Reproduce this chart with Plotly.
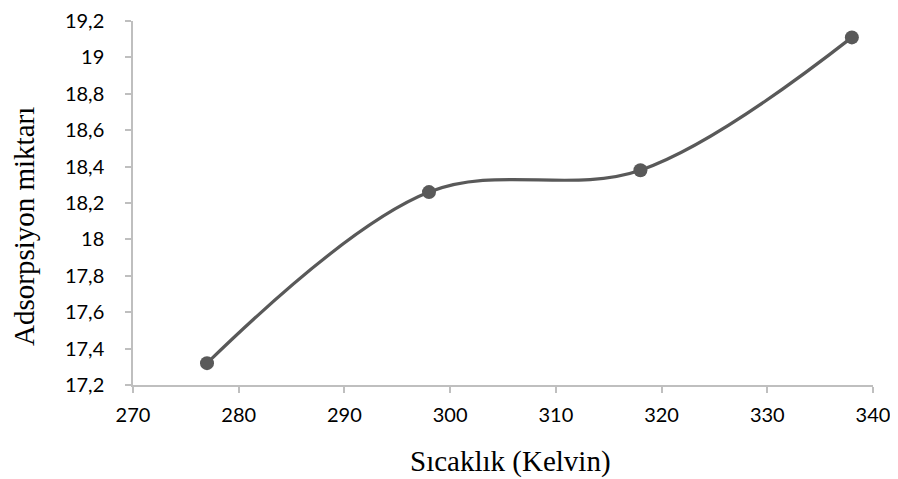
import plotly.graph_objects as go

temperature = [277, 298, 318, 338]
adsorption = [17.32, 18.26, 18.38, 19.11]

x_ticks = [270, 280, 290, 300, 310, 320, 330, 340]
y_ticks = [17.2, 17.4, 17.6, 17.8, 18.0, 18.2, 18.4, 18.6, 18.8, 19.0, 19.2]

x_title = "Sıcaklık (Kelvin)"
y_title = "Adsorpsiyon miktarı"

fig = go.Figure()
fig.add_trace(go.Scatter(
    x=temperature, y=adsorption,
    mode="lines+markers",
    line=dict(color="#595959", width=3.2, shape="spline", smoothing=1),
    marker=dict(color="#595959", size=14),
    showlegend=False,
))

axis_common = dict(
    showgrid=False, zeroline=False,
    showline=True, linecolor="#bfbfbf", linewidth=1.5,
    ticks="outside", tickcolor="#bfbfbf", ticklen=6, tickwidth=1.5,
    tickfont=dict(family="Lato, Liberation Sans, sans-serif", size=20, color="#000000"),
    automargin=False, ticklabeloverflow="allow",
)

title_font = dict(family="Liberation Serif, Times New Roman, serif", size=29, color="#000000")

# page body has an 8px default margin, so shift layout accordingly
fig.update_layout(
    width=890, height=471,
    margin=dict(l=125, r=25, t=13, b=94),
    paper_bgcolor="white", plot_bgcolor="white",
    separators=", ",
    xaxis=dict(range=[270, 340], tickvals=x_ticks, ticklabelstandoff=5, **axis_common),
    yaxis=dict(range=[17.2, 19.2], tickvals=y_ticks, tickformat=".1~f", ticklabelstandoff=17, **axis_common),
    annotations=[
        dict(text=x_title, xref="paper", yref="paper", x=0.5108, y=-0.2115,
             xanchor="center", yanchor="middle", showarrow=False, font=title_font),
        dict(text=y_title, xref="paper", yref="paper", x=-0.1473, y=0.4368, textangle=-90,
             xanchor="center", yanchor="middle", showarrow=False, font=title_font),
    ],
)

fig.write_html("out.html")
